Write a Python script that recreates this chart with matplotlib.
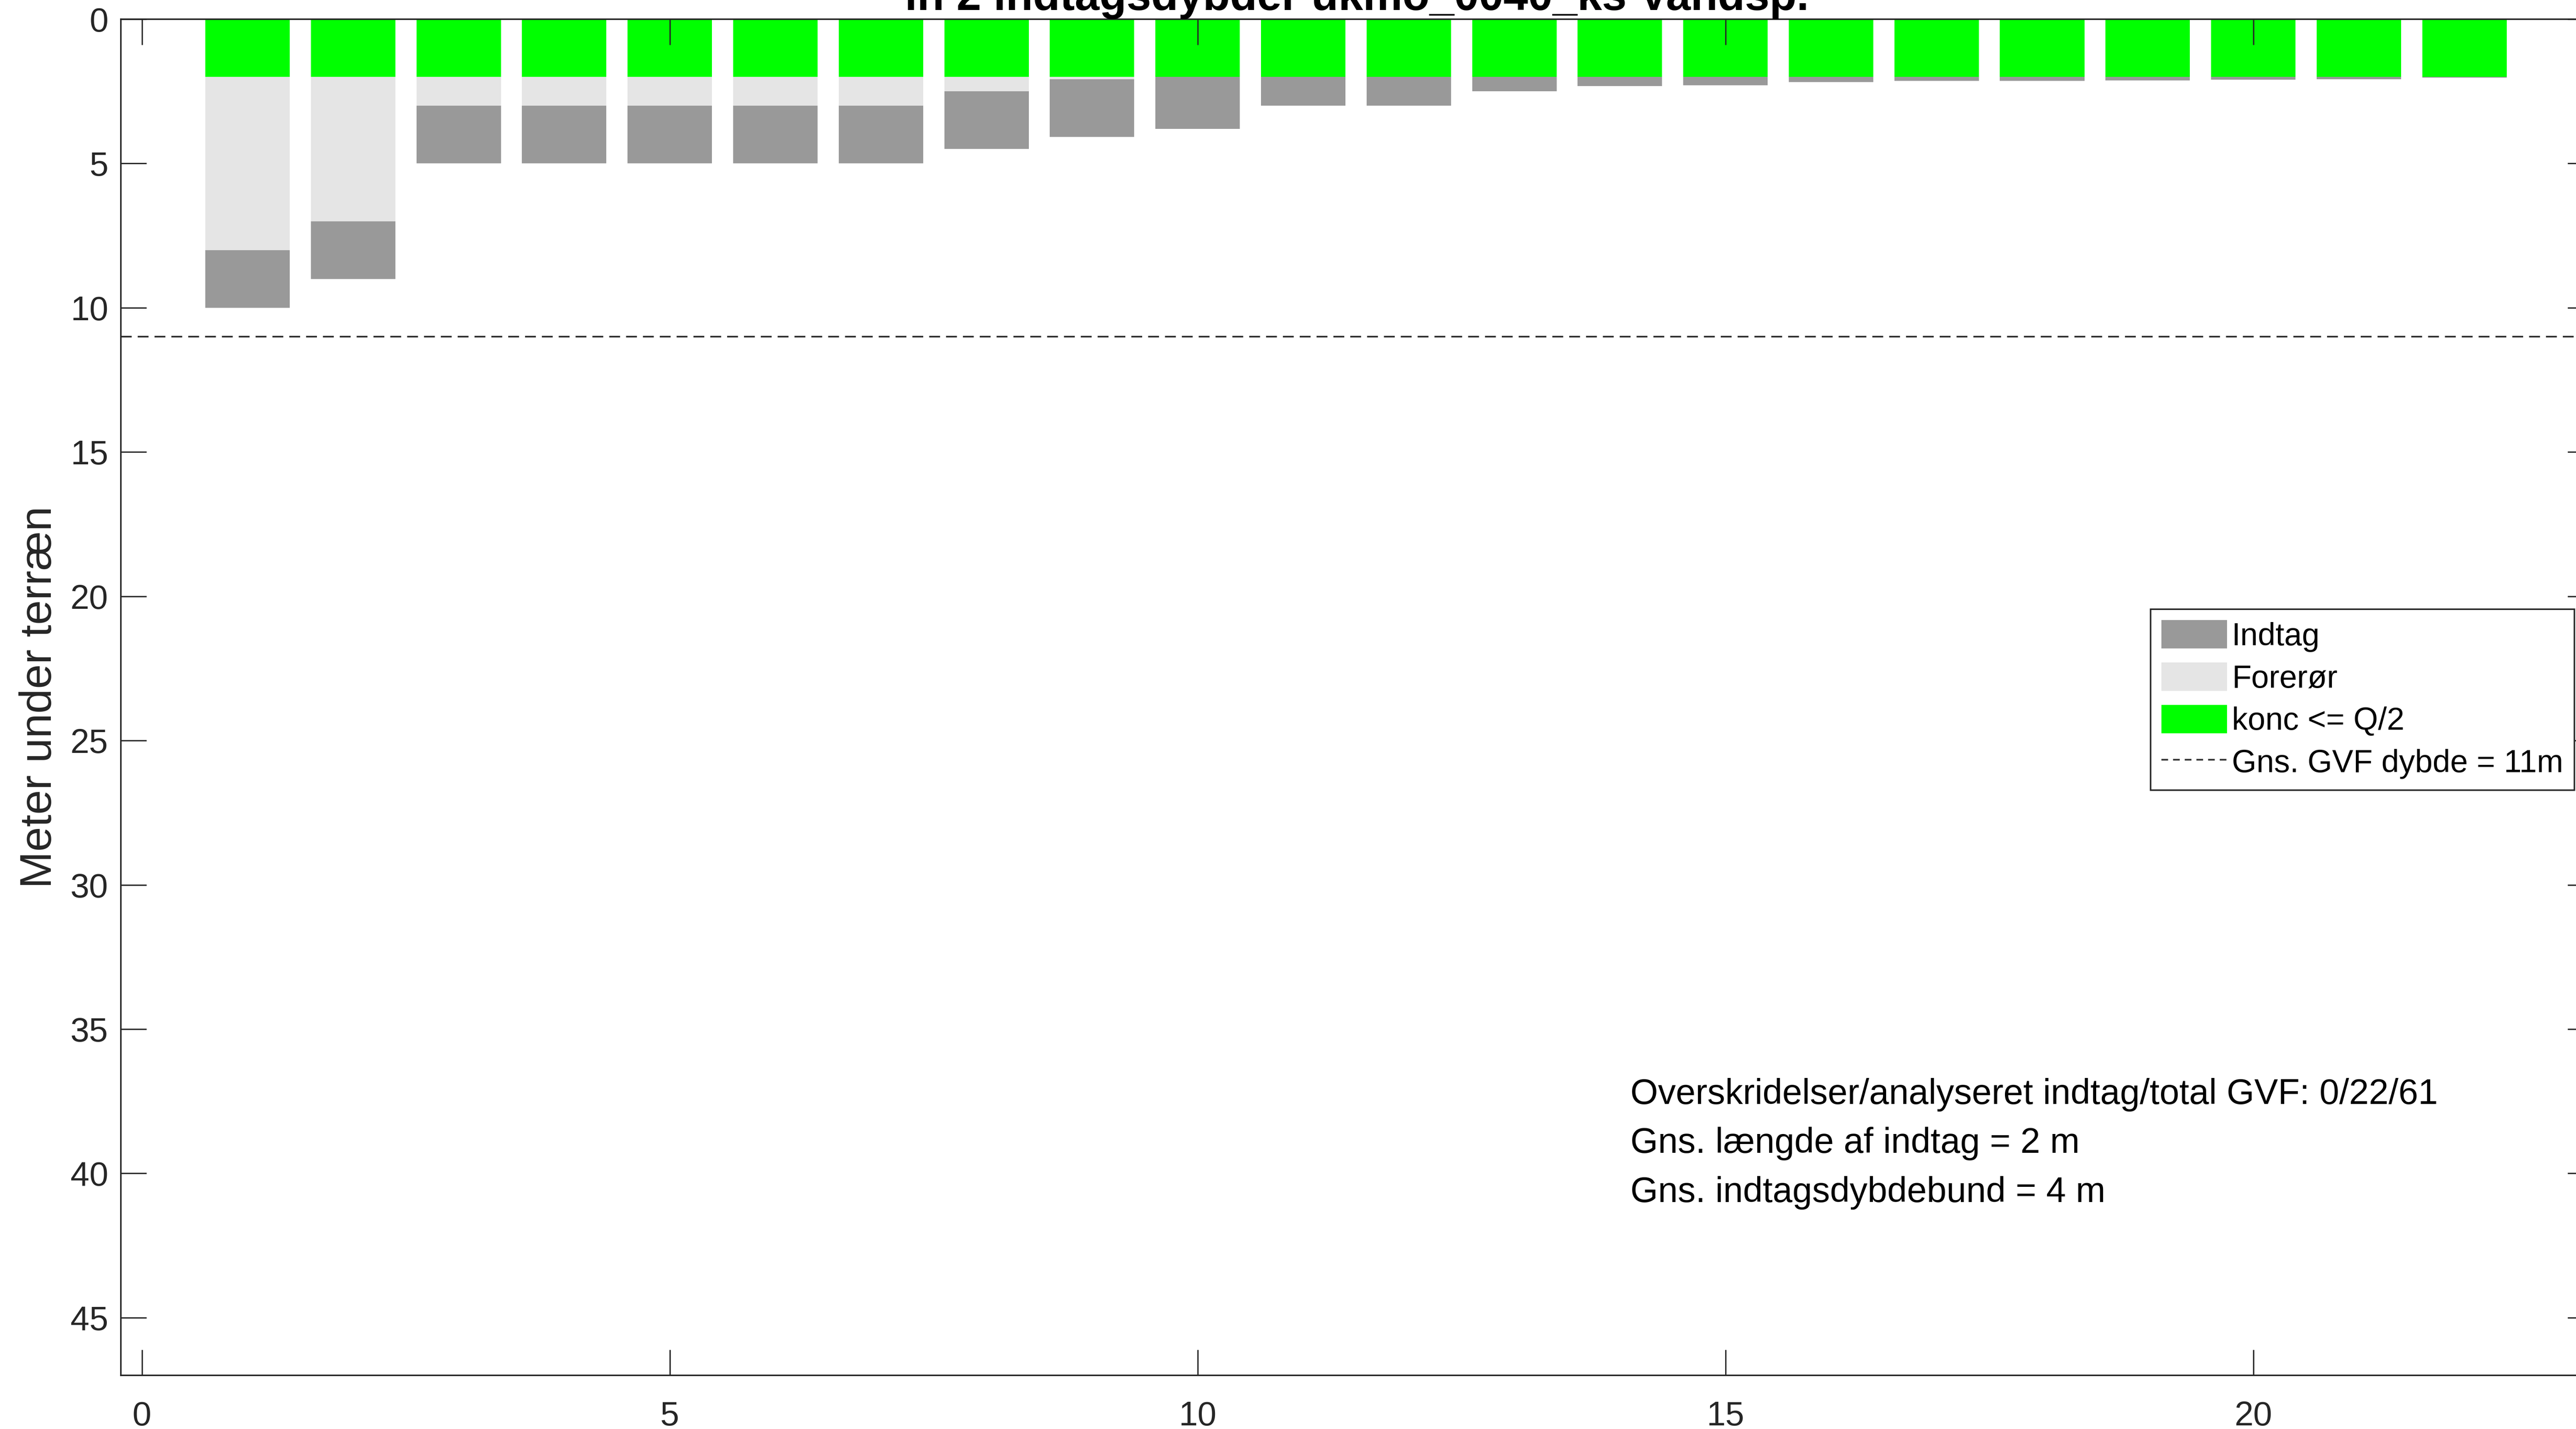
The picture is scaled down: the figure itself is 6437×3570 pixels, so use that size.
import matplotlib
matplotlib.use("Agg")
import matplotlib.pyplot as plt
from matplotlib.patches import Patch
from matplotlib.lines import Line2D
import numpy as np

plt.rcParams['font.family'] = ['Liberation Sans', 'DejaVu Sans']

# boring number along the x axis
boring = [1, 2, 3, 4, 5, 6, 7, 8, 9, 10, 11, 12, 13, 14, 15, 16, 17, 18, 19, 20, 21, 22]
# depth (m below terrain) of top of the analysed zone (konc <= Q/2)
konc_bund = [2, 2, 2, 2, 2, 2, 2, 2, 2, 2, 2, 2, 2, 2, 2, 2, 2, 2, 2, 2, 2, 2]
# top and bottom of the screen (indtag)
indtag_top = [8, 7, 3, 3, 3, 3, 3, 2.5, 2.08, 2, 2, 2, 2, 2, 2, 2, 2, 2, 2, 2, 2, 2]
indtag_bund = [10, 9, 5, 5, 5, 5, 5, 4.5, 4.08, 3.8, 3, 3, 2.5, 2.32, 2.29, 2.18,
               2.14, 2.14, 2.12, 2.1, 2.08, 2.02]

gvf_dybde = 11
tekst = ["Overskridelser/analyseret indtag/total GVF: 0/22/61",
         "Gns. længde af indtag = 2 m",
         "Gns. indtagsdybdebund = 4 m"]
titel = "in 2 indtagsdybder ukmo_0040_ks Vandsp."

c_indtag = "#999999"
c_forer = "#e5e5e5"
c_konc = "#00ff00"

boring = np.array(boring)
konc_bund = np.array(konc_bund)
indtag_top = np.array(indtag_top)
indtag_bund = np.array(indtag_bund)

fig = plt.figure(figsize=(6437 / 300, 3570 / 300), dpi=300)
ax = fig.add_axes([302 / 6437, 134 / 3570, 6178 / 6437, 3388 / 3570])

w = 0.8
# indtag, then forerør above it, then the green top section
ax.bar(boring, indtag_bund - indtag_top, bottom=indtag_top, width=w, color=c_indtag, lw=0)
ax.bar(boring, indtag_top - konc_bund, bottom=konc_bund, width=w, color=c_forer, lw=0)
ax.bar(boring, konc_bund, bottom=0, width=w, color=c_konc, lw=0)

ax.axhline(gvf_dybde, color="#333333", lw=1.0, dashes=(6.5, 3.6))

ax.set_xlim(-0.2, 23.22)
ax.set_ylim(47, 0)
ax.set_xticks(np.arange(0, 25, 5))
ax.set_yticks(np.arange(0, 50, 5))
ax.tick_params(axis='both', direction='in', length=15.4, width=0.8, colors="#262626",
               top=True, right=True, labelsize=20.4)
ax.tick_params(axis='x', pad=15)
ax.tick_params(axis='y', pad=7.5)
for s in ax.spines.values():
    s.set_linewidth(0.9)
    s.set_color("#262626")

ax.set_ylabel("Meter under terræn", fontsize=26.6, color="#262626")
ax.yaxis.set_label_coords(-0.0245, 0.5)

handles = [Patch(facecolor=c_indtag, edgecolor='none'),
           Patch(facecolor=c_forer, edgecolor='none'),
           Patch(facecolor=c_konc, edgecolor='none'),
           Line2D([0], [0], color="#333333", lw=1.0, dashes=(4, 3))]
labels = ["Indtag", "Forerør", "konc <= Q/2", "Gns. GVF dybde = %dm" % gvf_dybde]
leg = ax.legend(handles, labels, loc='upper right', bbox_to_anchor=(0.9924, 0.565),
                borderaxespad=0, fontsize=19, fancybox=False, framealpha=1,
                edgecolor="#262626", handlelength=2.07, handleheight=1.0,
                handletextpad=0.15, labelspacing=0.33, borderpad=0.35)
leg.get_frame().set_linewidth(0.9)

for i, t in enumerate(tekst):
    ax.text(14.1, 37.27 + 1.7 * i, t, fontsize=21.3, va='center', ha='left')

fig.text((302 + 6480) / 2 / 6437, 1 - 25 / 3570, titel, ha='center', va='baseline',
         fontsize=26.6, fontweight='bold')

plt.savefig('out.png', dpi=300)
